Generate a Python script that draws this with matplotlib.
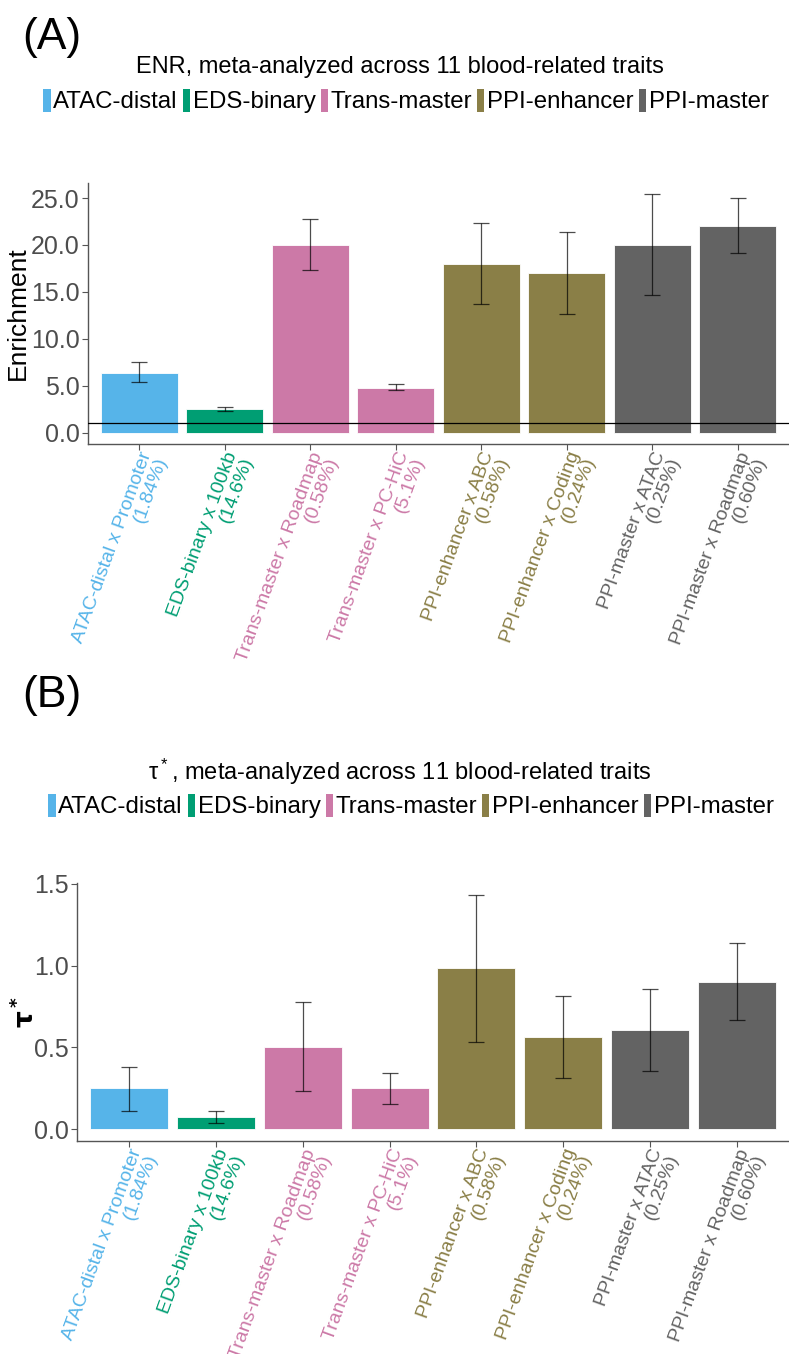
import matplotlib.pyplot as plt
from matplotlib.patches import Patch

plt.rcParams['font.family'] = ['Liberation Sans', 'DejaVu Sans']

# data
annots = ["ATAC-distal x Promoter\n(1.84%)", "EDS-binary x 100kb\n(14.6%)",
          "Trans-master x Roadmap\n(0.58%)", "Trans-master x PC-HiC\n(5.1%)",
          "PPI-enhancer x ABC\n(0.58%)", "PPI-enhancer x Coding\n(0.24%)",
          "PPI-master x ATAC\n(0.25%)", "PPI-master x Roadmap\n(0.60%)"]
groups = ["ATAC-distal", "EDS-binary", "Trans-master", "Trans-master",
          "PPI-enhancer", "PPI-enhancer", "PPI-master", "PPI-master"]
group_names = ["ATAC-distal", "EDS-binary", "Trans-master", "PPI-enhancer", "PPI-master"]
group_colors = ["#56B4E9", "#009E73", "#CC79A7", "#8A7F47", "#636363"]

enr = [6.4, 2.5, 20.0, 4.8, 18.0, 17.0, 20.0, 22.0]
enr_lo = [5.4, 2.3, 17.3, 4.5, 13.7, 12.7, 14.7, 19.1]
enr_hi = [7.5, 2.7, 22.8, 5.2, 22.3, 21.4, 25.4, 25.0]

tau = [0.25, 0.075, 0.505, 0.25, 0.985, 0.565, 0.605, 0.90]
tau_lo = [0.112, 0.037, 0.232, 0.152, 0.535, 0.311, 0.354, 0.669]
tau_hi = [0.382, 0.114, 0.778, 0.341, 1.431, 0.817, 0.858, 1.136]

cmap = dict(zip(group_names, group_colors))
colors = [cmap[g] for g in groups]
x = list(range(1, len(annots) + 1))

fig = plt.figure(figsize=(7.89, 13.54), dpi=100)


def panel(rect, vals, lo, hi, ylim, yticks, ylabel, ylabel_kw, label_x):
    ax = fig.add_axes(rect)
    ax.bar(x, vals, width=0.9, color=colors, edgecolor='white', linewidth=0.6, zorder=2)
    yerr = [[v - l for v, l in zip(vals, lo)], [h - v for v, h in zip(vals, hi)]]
    ax.errorbar(x, vals, yerr=yerr, fmt='none', ecolor='black', alpha=0.7,
                elinewidth=0.9, capsize=6, capthick=0.9, zorder=3)
    ax.set_xlim(0.4, 8.6)
    ax.set_ylim(*ylim)
    ax.tick_params(color='#555555', length=4, width=0.8)
    ax.tick_params(axis='x', pad=0)
    ax.tick_params(axis='y', pad=2)
    ax.set_yticks(yticks)
    ax.set_yticklabels(["%.1f" % t for t in yticks], fontsize=18, color='#4D4D4D')
    ax.set_xticks(x)
    ax.set_xticklabels(annots, rotation=70, ha='right', va='top',
                       rotation_mode='anchor', fontsize=14, linespacing=0.95)
    for lbl, c in zip(ax.get_xticklabels(), colors):
        lbl.set_color(c)
    ax.set_ylabel(ylabel, **ylabel_kw)
    ax.yaxis.set_label_coords(label_x, 0.5)
    for s in ['top', 'right']:
        ax.spines[s].set_visible(False)
    for s in ['left', 'bottom']:
        ax.spines[s].set_color('#555555')
        ax.spines[s].set_linewidth(1)
    return ax


axA = panel([88 / 789, 1 - 444 / 1354, 1 - 88 / 789, 261 / 1354],
            enr, enr_lo, enr_hi, (-1.2, 26.6), [0, 5, 10, 15, 20, 25],
            "Enrichment", dict(fontsize=19, va='center'), -0.1)
axA.axhline(1, color='black', lw=0.9, zorder=4)

axB = panel([77 / 789, 1 - 1141 / 1354, 1 - 77 / 789, 258 / 1354],
            tau, tau_lo, tau_hi, (-0.072, 1.505), [0, 0.5, 1.0, 1.5],
            r"$\mathbf{\tau^*}$", dict(fontsize=19, va='center'), -0.074)

handles = [Patch(facecolor=c, edgecolor='none') for c in group_colors]

fig.text(22 / 789, 1 - 38 / 1354, "(A)", fontsize=32, va='center')
fig.text(400 / 789, 1 - 67 / 1354, "ENR, meta-analyzed across 11 blood-related traits",
         fontsize=17, ha='center', va='center')
fig.legend(handles, group_names, loc='center', bbox_to_anchor=(406 / 789, 1 - 101 / 1354),
           ncol=5, frameon=False, fontsize=17.3, handlelength=0.3, handleheight=1.1,
           handletextpad=0.12, columnspacing=0.2, borderaxespad=0, borderpad=0)

fig.text(22 / 789, 1 - 695 / 1354, "(B)", fontsize=32, va='center')
fig.text(400 / 789, 1 - 772 / 1354, r"$\mathregular{\tau^*}$, meta-analyzed across 11 blood-related traits",
         fontsize=17, ha='center', va='center')
fig.legend(handles, group_names, loc='center', bbox_to_anchor=(411 / 789, 1 - 806 / 1354),
           ncol=5, frameon=False, fontsize=17.3, handlelength=0.3, handleheight=1.1,
           handletextpad=0.12, columnspacing=0.2, borderaxespad=0, borderpad=0)

fig.savefig("out.png", dpi=100)
